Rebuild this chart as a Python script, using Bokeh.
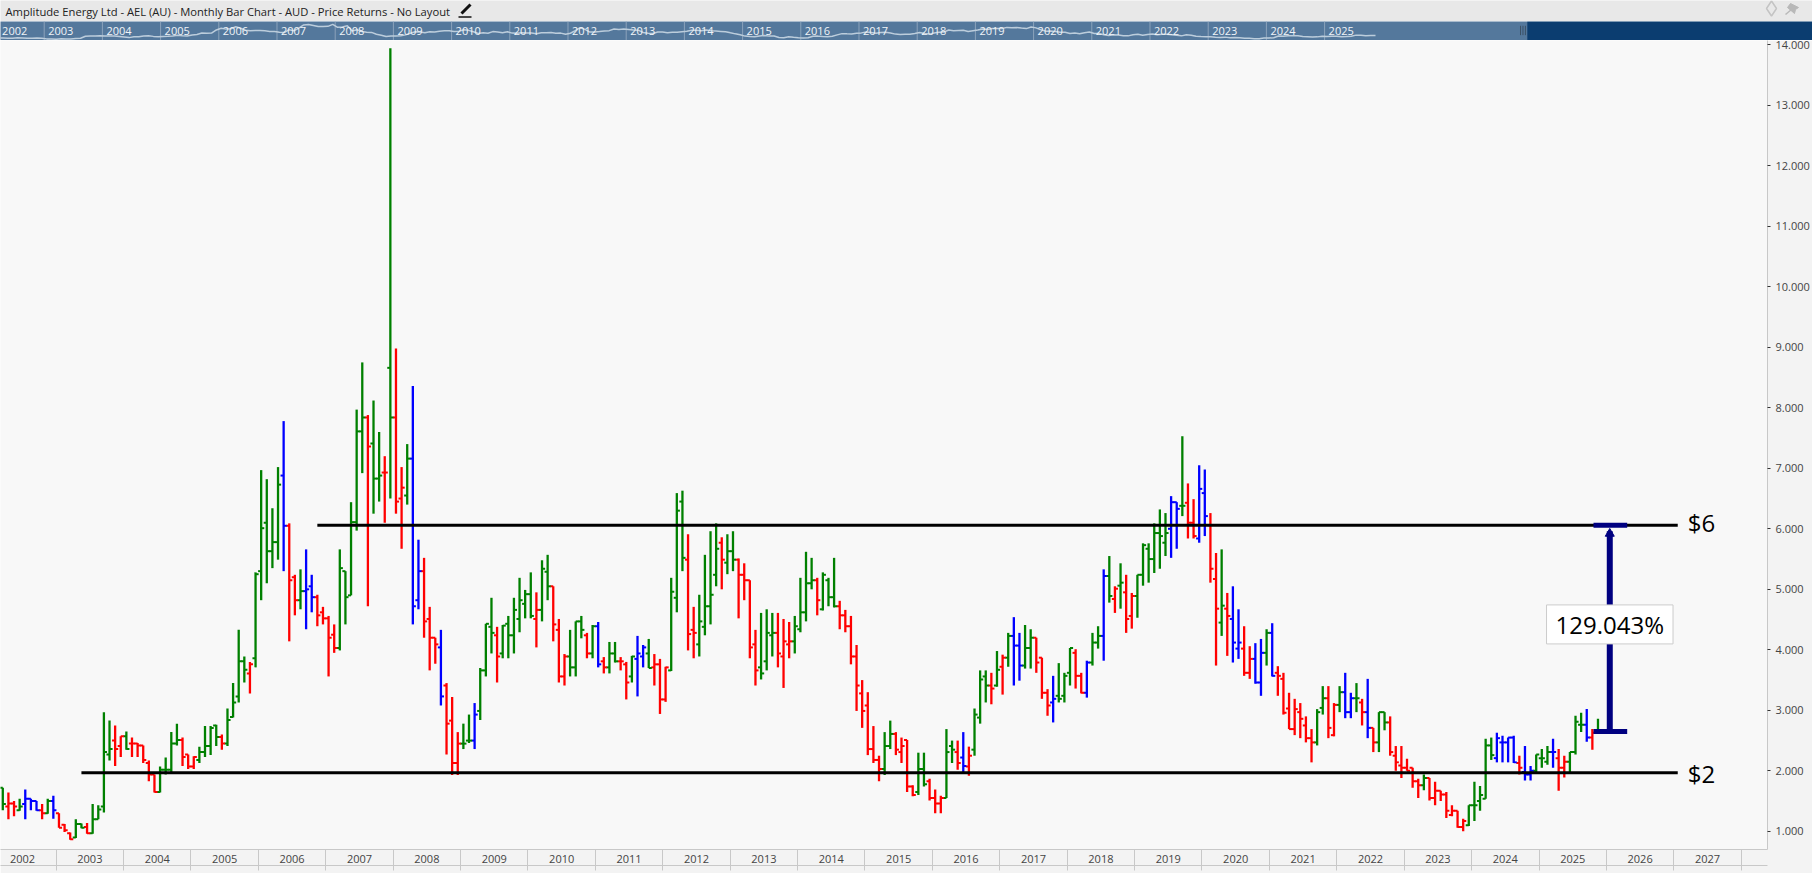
from bokeh.core.properties import value
from bokeh.embed import file_html
from bokeh.layouts import column
from bokeh.models import ColumnDataSource, FixedTicker, Label, LabelSet, LinearAxis, NumeralTickFormatter, Range1d
from bokeh.plotting import figure
from bokeh.resources import INLINE

# Monthly bars, one entry per month from Mar 2002
highs = [
    1.72, 1.64, 1.50, 1.54, 1.69, 1.54, 1.50, 1.45, 1.54, 1.59,
    1.30, 1.12, 0.98, 1.20, 1.13, 1.14, 1.45, 1.43, 2.97, 2.83,
    2.75, 2.57, 2.65, 2.55, 2.46, 2.42, 2.17, 1.94, 2.07, 2.22,
    2.64, 2.78, 2.55, 2.27, 2.24, 2.40, 2.74, 2.74, 2.76, 2.60,
    3.03, 3.45, 4.33, 3.89, 3.80, 5.28, 6.97, 6.82, 6.34, 7.02,
    7.78, 6.09, 5.24, 5.33, 5.66, 5.24, 4.91, 4.71, 4.56, 4.42,
    5.66, 5.30, 6.44, 7.97, 8.75, 7.88, 8.12, 7.60, 7.20, 13.94,
    8.98, 7.02, 7.40, 8.36, 5.82, 5.52, 4.71, 4.20, 4.33, 3.45,
    3.22, 2.64, 2.78, 2.93, 3.12, 3.70, 4.43, 4.86, 4.38, 4.41,
    4.56, 4.86, 5.19, 4.99, 5.28, 4.95, 5.48, 5.57, 5.05, 4.51,
    3.93, 4.33, 4.47, 4.56, 4.28, 4.41, 4.46, 3.88, 4.13, 4.13,
    3.88, 3.80, 3.90, 4.23, 4.08, 4.18, 3.93, 3.85, 3.72, 5.19,
    6.59, 6.63, 5.91, 4.71, 4.91, 5.57, 5.96, 6.09, 5.86, 5.91,
    5.96, 5.51, 5.43, 5.15, 4.33, 4.61, 4.67, 4.61, 4.61, 4.51,
    4.46, 4.56, 5.19, 5.62, 5.52, 5.19, 5.28, 5.19, 5.52, 4.81,
    4.66, 4.56, 4.08, 3.50, 3.30, 2.74, 2.25, 2.64, 2.83, 2.64,
    2.55, 2.51, 1.76, 2.30, 2.30, 1.87, 1.69, 1.59, 2.69, 2.50,
    2.50, 2.64, 2.40, 3.03, 3.66, 3.66, 3.62, 3.98, 3.92, 4.28,
    4.54, 4.28, 4.41, 4.34, 4.20, 3.87, 3.35, 3.57, 3.78, 3.62,
    4.03, 4.01, 3.62, 3.82, 4.28, 4.39, 5.33, 5.55, 5.05, 5.43,
    5.24, 4.94, 5.24, 5.76, 5.76, 6.09, 6.32, 6.26, 6.54, 6.44,
    7.53, 6.75, 6.49, 7.05, 6.98, 6.26, 5.60, 5.66, 4.94, 5.05,
    4.67, 4.39, 4.06, 4.11, 4.18, 4.34, 4.44, 3.73, 3.62, 3.29,
    3.19, 3.12, 2.90, 2.69, 3.02, 3.40, 3.40, 3.12, 3.40, 3.62,
    3.29, 3.45, 3.19, 3.52, 2.71, 2.97, 2.97, 2.90, 2.41, 2.41,
    2.20, 2.05, 1.87, 1.94, 1.88, 1.82, 1.67, 1.65, 1.43, 1.34,
    1.21, 1.43, 1.82, 1.75, 2.53, 2.55, 2.63, 2.58, 2.55, 2.58,
    2.25, 2.41, 2.08, 2.27, 2.36, 2.41, 2.53, 2.36, 2.25, 2.31,
    2.91, 2.96, 3.02, 2.69, 2.86,
]
lows = [
    1.35, 1.20, 1.25, 1.34, 1.20, 1.35, 1.34, 1.20, 1.29, 1.21,
    1.06, 0.99, 0.86, 0.89, 1.05, 0.96, 0.96, 1.20, 1.31, 2.17,
    2.08, 2.23, 2.35, 2.23, 2.23, 2.13, 1.83, 1.64, 1.64, 1.94,
    1.98, 2.42, 2.08, 2.03, 2.03, 2.13, 2.23, 2.26, 2.41, 2.35,
    2.41, 2.88, 3.13, 3.46, 3.28, 3.71, 4.82, 5.10, 5.35, 5.49,
    5.30, 4.14, 4.57, 4.67, 4.34, 4.62, 4.39, 4.42, 3.56, 3.95,
    3.99, 4.42, 4.90, 5.97, 6.92, 4.72, 6.25, 6.45, 6.10, 6.50,
    6.25, 5.67, 6.40, 4.42, 4.67, 4.20, 3.66, 3.77, 3.08, 2.27,
    1.93, 1.93, 2.36, 2.46, 2.36, 2.84, 3.56, 3.94, 3.46, 3.86,
    3.86, 3.94, 4.29, 4.52, 4.52, 4.04, 4.47, 4.82, 4.14, 3.46,
    3.41, 3.56, 3.56, 4.19, 3.86, 3.86, 3.71, 3.61, 3.61, 3.79,
    3.66, 3.18, 3.46, 3.23, 3.71, 3.70, 3.41, 2.94, 3.14, 3.65,
    4.62, 5.30, 3.99, 3.86, 3.89, 4.24, 4.42, 5.05, 5.00, 5.25,
    5.30, 4.52, 4.82, 3.86, 3.41, 3.51, 3.66, 3.89, 3.71, 3.37,
    3.86, 3.94, 4.29, 4.47, 5.00, 4.57, 4.65, 4.72, 4.70, 4.34,
    4.29, 3.76, 2.99, 2.71, 2.26, 2.13, 1.83, 1.93, 2.36, 2.26,
    2.13, 1.65, 1.58, 1.60, 1.74, 1.51, 1.30, 1.30, 1.55, 2.13,
    2.02, 1.98, 1.92, 2.25, 2.78, 3.13, 3.10, 3.39, 3.26, 3.72,
    3.41, 3.49, 3.69, 3.69, 3.62, 3.19, 2.91, 2.80, 3.13, 3.13,
    3.41, 3.36, 3.28, 3.21, 3.74, 4.02, 3.82, 4.78, 4.61, 4.68,
    4.28, 4.35, 4.53, 5.06, 5.11, 5.27, 5.34, 5.55, 5.52, 5.67,
    6.21, 5.84, 5.84, 5.77, 5.88, 5.11, 3.74, 4.23, 3.90, 3.79,
    3.85, 3.57, 3.52, 3.44, 3.24, 3.74, 3.56, 3.24, 2.93, 2.69,
    2.59, 2.54, 2.47, 2.14, 2.42, 2.93, 2.54, 2.57, 2.97, 2.87,
    2.87, 2.97, 2.75, 2.54, 2.31, 2.31, 2.67, 2.25, 2.00, 1.88,
    2.00, 1.72, 1.55, 1.68, 1.51, 1.43, 1.50, 1.22, 1.25, 1.06,
    1.00, 1.09, 1.17, 1.34, 1.54, 2.18, 2.14, 2.14, 2.14, 2.13,
    1.94, 1.84, 1.84, 1.98, 2.05, 2.10, 2.05, 1.67, 1.89, 1.98,
    2.27, 2.64, 2.48, 2.35, 2.64,
]
opens = [
    1.72, 1.41, 1.46, 1.35, 1.45, 1.54, 1.50, 1.35, 1.30, 1.50,
    1.30, 1.11, 0.97, 0.90, 1.12, 1.07, 0.97, 1.20, 1.41, 2.27,
    2.50, 2.41, 2.57, 2.45, 2.45, 2.42, 2.13, 1.94, 1.65, 2.02,
    2.02, 2.45, 2.51, 2.27, 2.07, 2.18, 2.31, 2.41, 2.75, 2.56,
    2.45, 2.89, 3.23, 3.81, 3.61, 3.86, 5.30, 6.10, 5.63, 5.78,
    6.88, 6.05, 5.20, 4.82, 4.97, 5.05, 4.87, 4.62, 4.52, 4.25,
    4.03, 5.30, 4.90, 6.11, 7.61, 7.84, 7.41, 6.83, 6.93, 8.66,
    7.84, 6.50, 6.55, 7.16, 4.82, 5.30, 4.51, 4.20, 4.04, 3.41,
    2.83, 2.13, 2.45, 2.50, 2.50, 2.99, 3.66, 4.38, 4.24, 3.94,
    4.43, 4.24, 4.51, 4.76, 4.92, 4.51, 4.66, 5.29, 5.05, 4.33,
    3.56, 3.89, 3.71, 4.47, 4.24, 3.94, 4.39, 3.81, 3.71, 3.94,
    3.81, 3.76, 3.56, 3.85, 3.89, 3.94, 3.71, 3.76, 3.18, 3.66,
    4.86, 6.45, 5.49, 4.33, 4.09, 4.38, 4.72, 5.24, 5.77, 5.44,
    5.63, 5.49, 5.24, 5.15, 4.09, 3.71, 3.81, 4.24, 4.28, 3.89,
    4.09, 4.14, 4.34, 4.62, 5.10, 5.15, 4.67, 5.15, 4.87, 4.72,
    4.57, 4.39, 3.89, 3.28, 3.08, 2.36, 2.18, 2.03, 2.41, 2.61,
    2.31, 2.51, 1.74, 1.65, 2.03, 1.83, 1.55, 1.46, 1.55, 2.41,
    2.31, 2.22, 2.07, 2.35, 2.88, 3.56, 3.41, 3.41, 3.72, 3.87,
    4.23, 4.07, 3.74, 4.03, 4.20, 3.87, 3.29, 3.13, 3.24, 3.24,
    3.62, 3.95, 3.57, 3.29, 3.79, 4.12, 4.23, 5.22, 4.84, 5.06,
    4.95, 4.56, 4.89, 5.24, 5.67, 5.50, 5.93, 5.77, 6.00, 6.44,
    6.38, 6.43, 6.10, 5.84, 6.59, 6.06, 5.17, 4.45, 4.68, 4.51,
    4.02, 4.02, 3.62, 3.85, 3.46, 3.95, 4.28, 3.62, 3.52, 3.03,
    2.69, 2.97, 2.75, 2.54, 2.47, 3.04, 3.20, 2.59, 3.09, 3.30,
    2.97, 3.20, 3.13, 2.97, 2.71, 2.47, 2.97, 2.80, 2.25, 2.09,
    2.05, 2.05, 1.83, 1.76, 1.88, 1.55, 1.67, 1.61, 1.27, 1.34,
    1.07, 1.10, 1.43, 1.50, 1.54, 2.42, 2.21, 2.47, 2.47, 2.55,
    2.13, 1.98, 1.94, 2.00, 2.21, 2.15, 2.31, 2.21, 2.05, 2.15,
    2.31, 2.76, 2.76, 2.55, 2.64,
]
closes = [
    1.45, 1.46, 1.41, 1.41, 1.54, 1.50, 1.35, 1.30, 1.50, 1.35,
    1.06, 1.02, 0.87, 1.12, 1.06, 0.97, 1.20, 1.36, 2.31, 2.36,
    2.36, 2.57, 2.36, 2.45, 2.42, 2.18, 1.94, 1.65, 2.02, 2.02,
    2.45, 2.51, 2.23, 2.07, 2.23, 2.31, 2.41, 2.71, 2.56, 2.45,
    2.84, 3.13, 3.81, 3.67, 3.76, 5.25, 6.01, 5.63, 5.78, 6.73,
    6.05, 5.15, 4.82, 4.97, 5.00, 4.87, 4.57, 4.52, 4.20, 4.03,
    5.35, 4.87, 6.11, 7.61, 7.84, 7.36, 6.83, 6.88, 6.93, 7.84,
    6.45, 6.68, 7.16, 4.72, 5.30, 4.47, 4.20, 4.09, 3.23, 2.78,
    2.13, 2.45, 2.45, 2.50, 2.93, 3.66, 4.43, 4.28, 3.89, 4.40,
    4.24, 4.66, 4.82, 4.92, 4.56, 4.66, 5.34, 5.05, 4.42, 3.56,
    3.89, 3.71, 4.47, 4.33, 3.94, 4.39, 3.76, 3.71, 3.94, 3.81,
    3.81, 3.46, 3.89, 3.94, 4.04, 3.70, 3.76, 3.18, 3.71, 4.96,
    6.30, 5.52, 4.26, 4.28, 4.47, 4.72, 4.91, 5.67, 5.49, 5.63,
    5.49, 5.24, 5.15, 4.04, 3.66, 3.61, 4.28, 4.28, 3.94, 4.14,
    4.14, 4.39, 4.62, 5.10, 5.15, 4.82, 5.24, 4.87, 4.72, 4.57,
    4.39, 3.89, 3.41, 2.99, 2.36, 2.18, 2.03, 2.41, 2.61, 2.35,
    2.41, 1.74, 1.60, 2.03, 1.78, 1.55, 1.46, 1.55, 2.31, 2.35,
    2.13, 2.08, 2.25, 2.93, 3.51, 3.41, 3.36, 3.67, 3.87, 4.23,
    4.07, 3.74, 4.03, 4.20, 3.79, 3.29, 3.08, 3.19, 3.19, 3.57,
    4.03, 3.57, 3.29, 3.79, 4.12, 4.23, 5.22, 4.89, 5.01, 5.11,
    4.51, 4.89, 5.24, 5.73, 5.50, 5.93, 5.88, 5.93, 6.44, 6.33,
    6.38, 6.10, 5.88, 6.66, 6.21, 5.34, 4.68, 4.73, 4.56, 4.12,
    4.12, 3.62, 3.85, 3.46, 3.95, 4.28, 3.57, 3.57, 2.96, 2.69,
    3.02, 2.86, 2.54, 2.47, 2.97, 3.20, 2.71, 3.09, 3.30, 2.97,
    3.20, 3.20, 2.97, 2.71, 2.47, 2.97, 2.80, 2.31, 2.14, 2.05,
    2.00, 1.83, 1.76, 1.88, 1.55, 1.67, 1.61, 1.34, 1.34, 1.07,
    1.17, 1.43, 1.43, 1.60, 2.42, 2.26, 2.54, 2.47, 2.55, 2.14,
    2.05, 1.94, 2.00, 2.27, 2.21, 2.31, 2.31, 2.05, 2.15, 2.31,
    2.81, 2.76, 2.55, 2.63, 2.65,
]
# u = up swing, d = down swing, o = outside bar
swing = (
    "u d d u o o o d u o d d d u u d u u u u d d u d d d d d u u "
    "u u d d d u u u u d u u u u d u u u u u o d d u o o d d d d "
    "u u u u u d u u d u d d u o o d d d o d d d u u o u u u d u "
    "u u u u u d u u d d d u u u d u o d u u d d u o o u d d d u "
    "u u d d u u u u d u u d d d d u u u d d d u u u u d u u u d "
    "d d d d d d d u u d d d d u u d d d u u d o d u u u d u d u "
    "o o u u d d d o u u u d d o u u o u d u d d u u u u u u o o "
    "u d d o o d d u d o o d d o o u o d d d d d d d u u d d u o "
    "o u d o d u u d d d d d d u d d d d d d d u u u u u o o o o "
    "d o o u u u o d d u u u o d u"
).split()

# Year bands on the time axis, each boundary falls between Dec and Jan
years = list(range(2002, 2028))
month_first_jan = 10
y_ticks = list(range(1, 15))

# Horizontal levels and the measured move
level_high = 6.06
level_low = 1.97
move_from = 2.65
move_pct = "129.043%"

title_text = "Amplitude Energy Ltd - AEL (AU) - Monthly Bar Chart - AUD - Price Returns - No Layout"
swing_colors = {"u": "#008000", "d": "#ff0000", "o": "#0000ff"}

months = list(range(len(closes)))
source = ColumnDataSource(dict(
    x=months,
    x_open=[m - 0.55 for m in months],
    x_close=[m + 0.55 for m in months],
    high=highs,
    low=lows,
    open=opens,
    close=closes,
    color=[swing_colors[s] for s in swing],
))

# Header strip, its range is simply the strip's pixels
header = figure(width=1812, height=21, x_range=Range1d(0, 1812), y_range=Range1d(21, 0),
                toolbar_location=None, output_backend="svg", x_axis_type=None, y_axis_type=None,
                frame_align=False, min_border=0, outline_line_color=None,
                background_fill_color="#e8e8e8", border_fill_color="#e8e8e8")
header.grid.visible = False
header.text([5], [10.5], text=[title_text], text_font=value("Open Sans"), text_font_size="11.2px",
            text_color="#222222", text_baseline="middle")
header.segment([461], [13], [470], [4], line_color="#111111", line_width=3)
header.segment([458], [16.5], [471], [16.5], line_color="#111111", line_width=1.5)
header.scatter([1771], [8], marker="diamond", size=15, fill_color=None, line_color="#c4c4c4", line_width=1.5)
header.patch([1790, 1798, 1795, 1794, 1787], [3, 7, 9, 13, 7], fill_color="#b8b8b8", line_color="#b8b8b8")
header.segment([1785], [14], [1791], [9], line_color="#b8b8b8", line_width=1.5)

# Overview strip with its own compressed scales
nav = figure(width=1812, height=19, x_range=Range1d(0.49, 374.1), y_range=Range1d(0.3, 9.2),
             toolbar_location=None, output_backend="svg", x_axis_type=None, y_axis_type=None,
             frame_align=False, min_border=0, outline_line_color=None,
             background_fill_color="#54789c", border_fill_color="#54789c")
nav.grid.visible = False
nav_starts = [month_first_jan - 0.5 + 12 * k for k in range(len(years) - 3)]
nav.segment(nav_starts, [0.3] * len(nav_starts), nav_starts, [9.2] * len(nav_starts), line_color="#8ba3bb", line_width=1)
nav.quad(left=[315.3], right=[374.1], bottom=[0.3], top=[9.2], fill_color="#0b3d70", line_color=None)
nav.segment([313.9, 314.4, 314.9], [2.8] * 3, [313.9, 314.4, 314.9], [7.2] * 3, line_color="#3b4f63", line_width=1)
nav.line(months, closes, line_color="#bccddc", line_width=1.5)
nav_label_x = [0.0] + nav_starts
nav.text(nav_label_x, [4.9] * len(nav_label_x), text=[str(y) for y in years[:len(nav_label_x)]],
         x_offset=4, text_font=value("Open Sans"), text_font_size="11px", text_color="#f0f4f8", text_baseline="middle")

# Main price chart
p = figure(width=1812, height=833, x_range=Range1d(-0.409, 314.18), y_range=Range1d(0.70, 14.07),
           toolbar_location=None, output_backend="svg", x_axis_type=None, y_axis_location="right",
           frame_align=False, min_border_left=0, min_border_top=0, min_border_right=44, min_border_bottom=24,
           outline_line_color=None, background_fill_color="#f8f8f8", border_fill_color="#f3f3f3")
p.grid.visible = False

p.yaxis.ticker = FixedTicker(ticks=y_ticks)
p.yaxis.formatter = NumeralTickFormatter(format="0.000")
p.yaxis.axis_line_color = "#c8c8c8"
p.yaxis.major_tick_in = 0
p.yaxis.major_tick_out = 3
p.yaxis.major_tick_line_color = "#333333"
p.yaxis.minor_tick_line_color = None
p.yaxis.major_label_standoff = 5
p.yaxis.major_label_text_font = "Open Sans"
p.yaxis.major_label_text_font_size = "11px"
p.yaxis.major_label_text_color = "#444444"

year_centers = [month_first_jan - 6.5 + 12 * k for k in range(len(years))]
year_edges = [month_first_jan - 0.5 + 12 * k for k in range(len(years))]
year_axis = LinearAxis(ticker=FixedTicker(ticks=year_centers, minor_ticks=year_edges))
year_axis.major_label_overrides = {c: str(y) for c, y in zip(year_centers, years)}
year_axis.axis_line_color = "#c8c8c8"
year_axis.major_tick_line_color = None
year_axis.major_tick_in = 0
year_axis.major_tick_out = 0
year_axis.minor_tick_in = 0
year_axis.minor_tick_out = 21
year_axis.minor_tick_line_color = "#c8c8c8"
# labels sit inside the band that the separators span
year_axis.major_label_standoff = -16
year_axis.major_label_text_font = "Open Sans"
year_axis.major_label_text_font_size = "11px"
year_axis.major_label_text_color = "#444444"
p.add_layout(year_axis, "below")

# Empty axis that only draws the lower edge of the band
band_edge = LinearAxis(ticker=FixedTicker(ticks=[]))
band_edge.axis_line_color = "#c8c8c8"
band_edge.major_tick_in = 0
band_edge.major_tick_out = 0
band_edge.minor_tick_in = 0
band_edge.minor_tick_out = 0
band_edge.major_tick_line_color = None
band_edge.minor_tick_line_color = None
band_edge.major_label_text_font_size = "0px"
band_edge.major_label_standoff = 0
p.add_layout(band_edge, "below")

# The 2028 band is cut off by the price axis, only its first digit shows
cut_year = ColumnDataSource(dict(x=[314.0], y=[0.70], text=["2"]))
p.add_layout(LabelSet(x="x", y="y", text="text", source=cut_year, y_offset=-11, text_align="center",
                      text_baseline="middle", text_font=value("Open Sans"), text_font_size="11px",
                      text_color="#444444"))

p.segment("x", "low", "x", "high", source=source, line_color="color", line_width=2.3)
p.segment("x_open", "open", "x", "open", source=source, line_color="color", line_width=2)
p.segment("x", "close", "x_close", "close", source=source, line_color="color", line_width=2)

# Support and resistance lines
p.segment([56.0, 14.0], [level_high, level_low], [298.2, 298.2], [level_high, level_low], line_color="black", line_width=3)
p.text([300.0, 300.0], [6.10, 1.95], text=["$6", "$2"], text_font=value("Open Sans"),
       text_font_size="24px", text_color="black", text_baseline="middle")

# Measured move
arrow_x = 286.1
p.segment([arrow_x], [move_from], [arrow_x], [level_high - 0.1], line_color="#000080", line_width=6)
p.segment([283.2, 283.2], [level_high, move_from], [289.2, 289.2], [level_high, move_from], line_color="#000080", line_width=5)
p.scatter([arrow_x], [level_high - 0.14], marker="triangle", size=9, fill_color="#000080", line_color="#000080")
p.add_layout(Label(x=arrow_x, y=4.42, text=move_pct, text_align="center", text_baseline="middle",
                   text_font="Open Sans", text_font_size="24px", text_color="black",
                   background_fill_color="white", border_line_color="#cccccc", padding=(9, 3)))

page = column(header, nav, p, spacing=0, styles={"position": "absolute", "left": "0px", "top": "0px"})
open("out.html", "w").write(file_html(page, INLINE))
